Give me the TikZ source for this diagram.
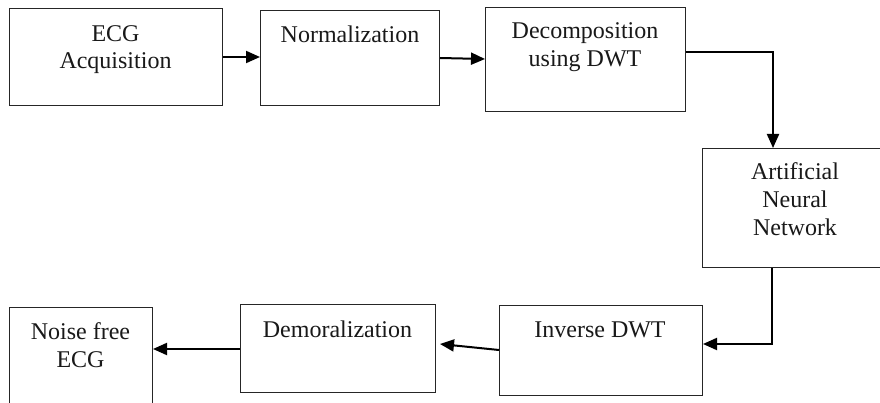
\documentclass[tikz,border=0pt]{standalone}
\usepackage{fontspec}
\setmainfont{Liberation Serif}
\usetikzlibrary{arrows.meta}
\begin{document}
\begin{tikzpicture}[x=1pt,y=1pt,
  box/.style={draw=black!85, line width=1pt, rectangle, inner sep=0pt, anchor=north west},
  txt/.style={inner sep=0pt, anchor=base, font=\fontsize{24}{28}\selectfont, text=black!90},
  conn/.style={line width=2pt, -{Triangle[length=14pt,width=12pt]}},
  seg/.style={line width=2pt}]
\clip (0,0) rectangle (880,-403);
\fill[white] (0,0) rectangle (880,-403);
% boxes
\node[box, minimum width=213pt, minimum height=97pt] (b1) at (9,-8) {};
\node[box, minimum width=179pt, minimum height=95pt] (b2) at (260,-10) {};
\node[box, minimum width=200pt, minimum height=104pt] (b3) at (485,-7) {};
\node[box, minimum width=186pt, minimum height=119pt] (b4) at (702,-148) {};
\node[box, minimum width=203pt, minimum height=90pt] (b5) at (499,-305) {};
\node[box, minimum width=195pt, minimum height=88pt] (b6) at (240,-304) {};
\node[box, minimum width=143pt, minimum height=130pt] (b7) at (9,-307) {};
% texts
\node[txt] (t1a) at (115.5,-42) {ECG};
\node[txt] (t1b) at (115.5,-69) {Acquisition};
\node[txt] (t2a) at (350,-43) {Normalization};
\node[txt] (t3a) at (585,-39) {Decomposition};
\node[txt] (t3b) at (585,-67) {using DWT};
\node[txt] (t4a) at (795,-180) {Artificial};
\node[txt] (t4b) at (795,-208) {Neural};
\node[txt] (t4c) at (795,-236) {Network};
\node[txt] (t5a) at (600,-337) {Inverse DWT};
\node[txt] (t6a) at (337.5,-337) {Demoralization};
\node[txt] (t7a) at (80.5,-339) {Noise free};
\node[txt] (t7b) at (80.5,-367) {ECG};
% connectors
\coordinate (c1) at (773,-52);
\coordinate (c2) at (772,-344);
\coordinate (e6) at (440,-344);
\draw[conn] (b1.east |- 0,-57) -- (b2.west |- 0,-57);
\draw[conn] (b2.east |- 0,-58) -- (b3.west |- 0,-59);
\draw[conn] (b3.east |- c1) -- (c1) -- (c1 |- b4.north);
\draw[conn] (c2 |- b4.south) -- (c2) -- (b5.east |- c2);
\draw[conn] (b5.west |- 0,-350) -- (e6);
\draw[conn] (b6.west |- 0,-349) -- (b7.east |- 0,-349);
\end{tikzpicture}
\end{document}
